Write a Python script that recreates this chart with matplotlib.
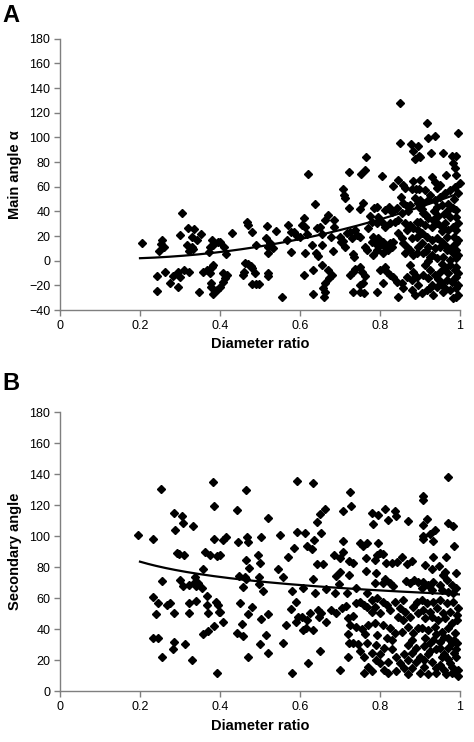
import matplotlib
matplotlib.use('Agg')
import numpy as np
import matplotlib.pyplot as plt

# ==========================================
# DATA
# ==========================================
# Panel A: diameter ratio vs main angle alpha
main_pts = [
    (0.306, 38.4), (0.204, 14.1), (0.256, 16.8), (0.252, 13.5), (0.261, 10.8), (0.248, 7.9),
    (0.300, 20.8), (0.321, 26.3), (0.335, 25.4), (0.329, 19.5), (0.352, 21.7), (0.342, 16.8),
    (0.317, 12.7), (0.329, 11.4), (0.323, 7.9), (0.333, 9.2), (0.379, 16.8), (0.375, 11.4),
    (0.383, 12.7), (0.394, 15.4), (0.373, 7.3), (0.242, -12.4), (0.262, -8.9), (0.282, -12.4),
    (0.296, -8.9), (0.300, -13.0), (0.311, -7.5), (0.323, -8.9), (0.275, -17.8), (0.296, -21.1),
    (0.242, -24.3), (0.357, -8.9), (0.368, -7.5), (0.379, -4.9), (0.375, -9.7), (0.383, -3.5),
    (0.378, -17.8), (0.378, -21.6), (0.393, -23.8), (0.348, -25.1), (0.382, -27.0),
    (0.467, 31.6), (0.471, 29.0), (0.429, 22.2), (0.481, 23.0), (0.518, 28.1), (0.539, 24.1),
    (0.569, 28.7), (0.577, 23.5), (0.585, 23.5), (0.592, 20.0), (0.600, 19.5), (0.515, 18.2),
    (0.525, 14.1), (0.490, 12.7), (0.567, 16.8), (0.400, 15.4), (0.410, 11.4), (0.415, 5.2),
    (0.521, 11.4), (0.533, 10.0), (0.519, 6.0), (0.578, 6.8), (0.463, -1.6), (0.471, -2.7),
    (0.477, -4.3), (0.481, -6.2), (0.460, -8.9), (0.457, -11.6), (0.488, -9.7), (0.519, -9.7),
    (0.519, -12.4), (0.408, -9.7), (0.418, -11.6), (0.413, -14.3), (0.408, -17.0), (0.400, -21.1),
    (0.479, -19.2), (0.489, -19.2), (0.498, -19.2), (0.554, -29.7),
    (0.764, 83.9), (0.763, 73.6), (0.752, 70.0), (0.723, 71.9), (0.621, 70.5), (0.708, 57.9),
    (0.711, 53.3), (0.713, 50.6), (0.638, 45.7), (0.723, 42.5), (0.758, 46.5), (0.750, 41.7),
    (0.775, 36.2), (0.610, 34.4), (0.604, 29.0), (0.613, 27.6), (0.671, 37.1), (0.663, 33.0),
    (0.686, 33.0), (0.686, 27.6), (0.650, 27.6), (0.642, 26.3), (0.618, 21.7), (0.654, 21.7),
    (0.677, 19.5), (0.700, 19.5), (0.707, 16.2), (0.702, 15.4), (0.717, 22.7), (0.725, 23.5),
    (0.738, 24.9), (0.743, 20.8), (0.750, 19.5), (0.729, 18.2), (0.771, 26.3), (0.629, 12.7),
    (0.654, 12.7), (0.713, 11.4), (0.763, 11.4), (0.767, 8.7), (0.613, 6.0), (0.640, 6.0),
    (0.646, 3.8), (0.683, 7.9), (0.733, 5.4), (0.736, 3.2), (0.750, -4.9), (0.754, -8.9),
    (0.763, -12.4), (0.725, -11.6), (0.732, -8.9), (0.738, -7.0), (0.610, -11.6), (0.632, -7.5),
    (0.654, -3.5), (0.671, -7.5), (0.679, -11.6), (0.673, -14.3), (0.663, -18.4), (0.657, -22.4),
    (0.663, -25.1), (0.660, -29.2), (0.633, -27.0), (0.750, -19.7), (0.758, -18.4), (0.760, -26.5),
    (0.750, -25.1), (0.733, -25.1),
    (0.850, 128.2), (0.850, 95.2), (0.877, 94.7), (0.894, 93.1), (0.883, 89.3), (0.888, 82.3),
    (0.898, 84.5), (0.804, 68.7), (0.846, 65.5), (0.858, 61.5), (0.863, 58.8), (0.833, 60.6),
    (0.883, 64.9), (0.879, 57.9), (0.890, 57.9), (0.898, 57.9), (0.852, 51.9), (0.888, 50.6),
    (0.894, 46.5), (0.898, 43.9), (0.785, 42.5), (0.792, 43.9), (0.813, 41.2), (0.823, 43.4),
    (0.829, 39.8), (0.842, 42.5), (0.858, 46.5), (0.867, 44.4), (0.875, 45.2), (0.871, 40.6),
    (0.854, 38.4), (0.796, 35.7), (0.779, 31.6), (0.792, 30.3), (0.804, 31.6), (0.813, 27.6),
    (0.825, 30.3), (0.838, 31.6), (0.846, 33.0), (0.863, 30.3), (0.875, 29.0), (0.892, 31.6),
    (0.883, 26.3), (0.867, 24.9), (0.896, 24.9), (0.783, 19.5), (0.796, 18.2), (0.808, 15.4),
    (0.788, 14.1), (0.779, 15.4), (0.800, 12.7), (0.813, 11.4), (0.825, 14.1), (0.833, 15.4),
    (0.792, 8.7), (0.783, 4.6), (0.808, 6.0), (0.821, 8.7), (0.829, 11.4), (0.846, 22.2),
    (0.854, 18.2), (0.858, 14.1), (0.867, 11.4), (0.875, 8.7), (0.883, 4.6), (0.892, 6.0),
    (0.863, 6.0), (0.879, 18.2), (0.892, 19.5), (0.896, 11.4), (0.800, -7.5), (0.813, -4.9),
    (0.817, -8.9), (0.825, -11.6), (0.833, -13.0), (0.842, -17.0), (0.854, -18.4), (0.858, -22.4),
    (0.808, -18.4), (0.792, -25.1), (0.846, -29.2), (0.875, -3.5), (0.883, -8.9), (0.867, -13.0),
    (0.879, -15.7), (0.892, -13.0), (0.896, -19.7), (0.879, -23.8), (0.888, -27.8),
    (0.917, 111.9), (0.938, 101.1), (0.921, 99.3), (0.995, 103.8), (0.927, 87.6), (0.958, 87.6),
    (0.979, 84.9), (0.990, 84.9), (0.900, 84.3), (0.983, 79.5), (0.988, 74.9), (0.965, 69.4),
    (0.990, 69.4), (0.929, 68.1), (0.938, 64.0), (0.950, 61.3), (0.942, 58.6), (0.900, 65.4),
    (0.913, 57.3), (0.925, 53.2), (0.900, 49.2), (0.908, 46.5), (0.921, 49.2), (0.938, 49.2),
    (0.950, 51.9), (0.963, 54.6), (0.975, 57.3), (0.988, 60.0), (0.996, 54.6), (0.999, 62.7),
    (0.942, 43.9), (0.954, 45.2), (0.971, 41.2), (0.983, 42.5), (0.990, 41.2), (0.990, 35.7),
    (0.975, 35.7), (0.908, 38.4), (0.921, 34.3), (0.933, 33.0), (0.900, 31.6), (0.913, 29.0),
    (0.929, 27.6), (0.942, 30.3), (0.954, 27.6), (0.963, 30.3), (0.971, 24.9), (0.983, 27.6),
    (0.990, 24.9), (0.995, 30.3), (0.904, 22.2), (0.917, 19.5), (0.929, 16.8), (0.942, 18.2),
    (0.954, 15.4), (0.967, 19.5), (0.904, 14.1), (0.921, 11.4), (0.938, 10.0), (0.950, 11.4),
    (0.967, 8.7), (0.979, 11.4), (0.990, 14.1), (0.995, 16.8), (0.990, 8.7), (0.983, 6.0),
    (0.908, 6.0), (0.925, 3.2), (0.942, 1.9), (0.958, 3.2), (0.975, 0.5), (0.990, 1.9),
    (0.995, 4.6), (0.913, -3.5), (0.925, -7.5), (0.908, -11.6), (0.921, -14.3), (0.938, -11.6),
    (0.950, -8.9), (0.963, -6.2), (0.975, -3.5), (0.988, -7.5), (0.990, -4.9), (0.990, -13.0),
    (0.979, -17.0), (0.967, -15.7), (0.954, -18.4), (0.942, -21.1), (0.929, -19.7), (0.917, -23.8),
    (0.904, -26.5), (0.933, -27.8), (0.958, -25.1), (0.975, -23.8), (0.990, -22.4), (0.995, -19.7),
    (0.995, -27.8), (0.990, -29.2), (0.983, -30.5),
    (0.905, 42.0), (0.915, 37.0), (0.935, 40.0), (0.945, 36.0), (0.960, 38.0), (0.970, 46.0),
    (0.985, 50.0), (0.955, 24.0), (0.965, 12.0), (0.985, 19.0), (0.915, 8.0), (0.930, 5.0),
    (0.955, -3.0), (0.970, -10.0), (0.945, -15.0), (0.925, -22.0), (0.960, -21.0), (0.985, -15.0),
    (0.920, 0.0), (0.995, -10.0),
]

# Panel B: diameter ratio vs secondary angle
sec_pts = [
    (0.382, 135.2), (0.252, 130.3), (0.385, 119.5), (0.285, 114.8), (0.304, 113.3), (0.308, 108.8),
    (0.332, 106.6), (0.288, 104.2), (0.196, 100.8), (0.233, 98.3), (0.385, 98.3), (0.292, 89.0),
    (0.298, 88.6), (0.310, 88.2), (0.363, 89.9), (0.375, 87.8), (0.393, 87.3), (0.357, 78.7),
    (0.254, 71.4), (0.300, 71.8), (0.308, 68.1), (0.323, 68.5), (0.335, 69.6), (0.339, 67.9),
    (0.346, 70.0), (0.338, 73.9), (0.354, 66.5), (0.233, 61.0), (0.246, 56.7), (0.267, 55.6),
    (0.275, 56.7), (0.323, 56.7), (0.340, 58.4), (0.367, 61.4), (0.368, 55.6), (0.390, 57.8),
    (0.396, 55.6), (0.239, 49.7), (0.286, 50.3), (0.322, 50.8), (0.371, 50.3), (0.398, 51.4),
    (0.385, 42.1), (0.371, 39.1), (0.358, 37.0), (0.233, 34.2), (0.246, 34.6), (0.285, 32.1),
    (0.313, 30.6),
    (0.592, 135.9), (0.465, 129.9), (0.443, 117.0), (0.521, 111.6), (0.592, 103.0), (0.407, 97.6),
    (0.415, 99.7), (0.446, 96.5), (0.468, 99.7), (0.471, 96.1), (0.502, 99.7), (0.550, 100.8),
    (0.585, 92.2), (0.571, 86.8), (0.400, 88.0), (0.465, 84.7), (0.473, 79.3), (0.496, 88.0),
    (0.500, 83.0), (0.546, 78.9), (0.558, 73.9), (0.448, 74.4), (0.463, 73.9), (0.465, 72.2),
    (0.498, 73.9), (0.458, 67.5), (0.498, 69.2), (0.508, 64.9), (0.579, 64.7), (0.450, 56.8),
    (0.479, 54.6), (0.590, 57.4), (0.578, 52.9), (0.400, 51.4), (0.408, 44.9), (0.471, 49.7),
    (0.521, 49.7), (0.502, 46.5), (0.596, 48.2), (0.590, 45.0), (0.565, 42.8), (0.454, 43.4),
    (0.442, 37.8), (0.457, 35.7), (0.515, 36.3), (0.500, 30.3), (0.557, 31.0),
    (0.632, 134.2), (0.725, 128.4), (0.728, 119.7), (0.663, 117.4), (0.650, 114.4), (0.642, 109.4),
    (0.707, 116.4), (0.613, 101.9), (0.652, 101.9), (0.635, 97.6), (0.708, 97.2), (0.750, 95.9),
    (0.758, 93.7), (0.767, 95.5), (0.617, 93.7), (0.629, 91.5), (0.708, 90.1), (0.700, 85.8),
    (0.685, 87.9), (0.723, 84.3), (0.733, 83.0), (0.765, 85.8), (0.642, 82.1), (0.657, 82.1),
    (0.700, 77.2), (0.690, 74.2), (0.723, 75.0), (0.765, 77.9), (0.632, 72.2), (0.698, 69.2),
    (0.608, 66.5), (0.638, 63.6), (0.665, 65.8), (0.688, 63.2), (0.717, 63.6), (0.740, 66.5),
    (0.767, 63.6), (0.604, 48.1), (0.618, 46.0), (0.615, 40.6), (0.608, 39.5), (0.633, 39.5),
    (0.625, 50.7), (0.646, 52.4), (0.652, 50.3), (0.648, 48.1), (0.665, 44.9), (0.677, 52.4),
    (0.690, 50.7), (0.704, 53.5), (0.715, 55.0), (0.740, 56.7), (0.750, 57.8), (0.760, 55.6),
    (0.767, 54.6), (0.721, 47.0), (0.725, 42.7), (0.733, 48.5), (0.740, 41.7), (0.721, 36.8),
    (0.754, 40.0), (0.763, 36.7), (0.771, 42.7), (0.723, 31.0), (0.733, 31.0), (0.746, 30.4),
    (0.767, 31.0),
    (0.813, 117.4), (0.838, 116.6), (0.840, 113.2), (0.821, 110.5), (0.796, 113.6), (0.779, 115.1),
    (0.782, 107.9), (0.871, 110.0), (0.796, 95.5), (0.792, 87.9), (0.800, 89.4), (0.807, 88.6),
    (0.788, 84.7), (0.815, 82.5), (0.829, 82.5), (0.842, 83.6), (0.854, 86.8), (0.868, 82.1),
    (0.879, 84.3), (0.790, 76.5), (0.813, 72.2), (0.825, 69.6), (0.832, 67.9), (0.808, 70.0),
    (0.788, 69.6), (0.865, 70.9), (0.875, 69.6), (0.885, 71.8), (0.896, 70.2),
    (0.779, 58.9), (0.792, 60.0), (0.807, 57.8), (0.788, 54.6), (0.779, 51.4), (0.800, 50.3),
    (0.817, 55.7), (0.825, 52.5), (0.838, 57.8), (0.858, 58.9), (0.850, 53.5), (0.863, 51.4),
    (0.846, 48.1), (0.858, 46.0), (0.875, 48.1), (0.883, 54.6), (0.892, 57.8), (0.896, 50.3),
    (0.788, 43.9), (0.808, 42.8), (0.825, 40.6), (0.838, 37.4), (0.854, 38.5), (0.871, 41.7),
    (0.883, 37.4), (0.896, 40.6), (0.792, 36.3), (0.817, 34.2), (0.879, 33.1),
    (0.971, 138.5), (0.908, 126.0), (0.907, 123.2), (0.918, 111.0), (0.907, 107.5), (0.971, 108.6),
    (0.982, 106.4), (0.938, 104.1), (0.925, 101.4), (0.933, 97.2), (0.907, 100.2), (0.908, 98.0),
    (0.985, 93.7), (0.932, 86.8), (0.965, 86.4), (0.913, 81.5), (0.929, 78.7), (0.948, 80.9),
    (0.963, 77.2), (0.990, 76.1), (0.957, 75.0), (0.908, 70.7), (0.921, 68.6), (0.933, 70.7),
    (0.950, 68.6), (0.967, 71.8), (0.979, 68.6), (0.990, 66.5), (0.904, 66.5), (0.929, 65.4),
    (0.954, 65.4), (0.971, 64.3), (0.983, 63.2),
    (0.904, 58.9), (0.917, 56.8), (0.933, 57.8), (0.950, 58.9), (0.967, 56.8), (0.983, 57.8),
    (0.996, 53.5), (0.908, 52.5), (0.925, 51.4), (0.942, 53.5), (0.958, 50.3), (0.975, 51.4),
    (0.992, 49.2), (0.913, 47.1), (0.929, 48.1), (0.946, 46.0), (0.963, 47.1), (0.979, 43.9),
    (0.993, 46.0), (0.904, 40.6), (0.921, 39.5), (0.938, 41.7), (0.954, 38.5), (0.971, 40.6),
    (0.988, 37.4), (0.913, 34.2), (0.933, 33.1), (0.950, 32.1), (0.971, 34.2), (0.992, 31.0),
    (0.925, 31.0), (0.979, 31.0),
    # lower band (values under 30), estimated
    (0.256, 22.0), (0.283, 27.0), (0.330, 20.0), (0.392, 12.0), (0.470, 22.0), (0.520, 25.0),
    (0.580, 12.0), (0.620, 18.0), (0.650, 26.0), (0.700, 14.0), (0.720, 22.0), (0.760, 12.0),
    (0.780, 25.0), (0.800, 18.0), (0.820, 12.0), (0.840, 22.0), (0.860, 15.0), (0.880, 25.0),
    (0.900, 12.0), (0.910, 20.0), (0.925, 26.0), (0.940, 15.0), (0.955, 22.0), (0.965, 11.0),
    (0.975, 18.0), (0.985, 25.0), (0.995, 14.0), (0.950, 28.0), (0.890, 19.0), (0.810, 28.0),
    (0.760, 22.0), (0.770, 16.0), (0.780, 13.0), (0.790, 20.0), (0.800, 24.0), (0.810, 14.0),
    (0.820, 19.0), (0.830, 27.0), (0.840, 13.0), (0.850, 18.0), (0.860, 24.0), (0.870, 11.0),
    (0.870, 20.0), (0.880, 15.0), (0.890, 28.0), (0.900, 22.0), (0.910, 16.0), (0.920, 11.0),
    (0.920, 24.0), (0.930, 19.0), (0.940, 27.0), (0.940, 12.0), (0.950, 17.0), (0.960, 24.0),
    (0.960, 14.0), (0.970, 21.0), (0.970, 28.0), (0.980, 12.0), (0.980, 16.0), (0.990, 22.0),
    (0.990, 27.0), (0.995, 10.0), (0.985, 33.0), (0.960, 35.0), (0.940, 37.0), (0.910, 29.0),
    (0.870, 30.0), (0.830, 33.0), (0.790, 30.0), (0.750, 26.0),
]

# Excel-style trend lines, coefficients
main_trend = (2.5, -16.25, 68.75)     # quadratic: a + b*x + c*x^2
sec_trend = (62.5, -0.181)            # power: a * x^b
trend_range = (0.2, 1.0)

x_ticks = [0, 0.2, 0.4, 0.6, 0.8, 1]
x_ticklabels = ['0', '0.2', '0.4', '0.6', '0.8', '1']

# ==========================================
# PLOT
# ==========================================
plt.rcParams['font.family'] = ['Liberation Sans', 'DejaVu Sans']

fig = plt.figure(figsize=(4.74, 7.42), dpi=100)
W, H = 474.0, 742.0
ax_a = fig.add_axes([60 / W, 1 - 310 / H, 400 / W, 271.3 / H])
ax_b = fig.add_axes([60 / W, 1 - 691.3 / H, 400 / W, 279 / H])

xs = np.linspace(trend_range[0], trend_range[1], 200)


def style_axes(ax, ylim, yticks, ylabel):
    ax.set_xlim(0, 1)
    ax.set_ylim(*ylim)
    ax.set_xticks(x_ticks)
    ax.set_xticklabels(x_ticklabels)
    ax.set_yticks(yticks)
    for s in ['top', 'right']:
        ax.spines[s].set_visible(False)
    for s in ['left', 'bottom']:
        ax.spines[s].set_color('#7f7f7f')
        ax.spines[s].set_linewidth(1.0)
    ax.tick_params(direction='out', length=4, width=1.0, color='#7f7f7f',
                   labelsize=9, pad=3)
    ax.set_xlabel('Diameter ratio', fontsize=10.5, fontweight='bold', labelpad=4)
    ax.set_ylabel(ylabel, fontsize=10.5, fontweight='bold', labelpad=5)


# Panel A
pts = np.array(main_pts)
ax_a.plot(pts[:, 0], pts[:, 1], 'D', color='black', markersize=3.8, clip_on=False)
a, b, c = main_trend
ax_a.plot(xs, a + b * xs + c * xs ** 2, color='black', lw=1.6)
style_axes(ax_a, (-40, 180), np.arange(-40, 181, 20), 'Main angle α')
fig.text(2 / W, 1 - 4 / H, 'A', fontsize=17, fontweight='bold', va='top', ha='left')

# Panel B
pts = np.array(sec_pts)
ax_b.plot(pts[:, 0], pts[:, 1], 'D', color='black', markersize=3.8, clip_on=False)
a, b = sec_trend
ax_b.plot(xs, a * xs ** b, color='black', lw=1.6)
style_axes(ax_b, (0, 180), np.arange(0, 181, 20), 'Secondary angle')
fig.text(2 / W, 1 - 372 / H, 'B', fontsize=17, fontweight='bold', va='top', ha='left')

fig.savefig('out.png', dpi=100)
